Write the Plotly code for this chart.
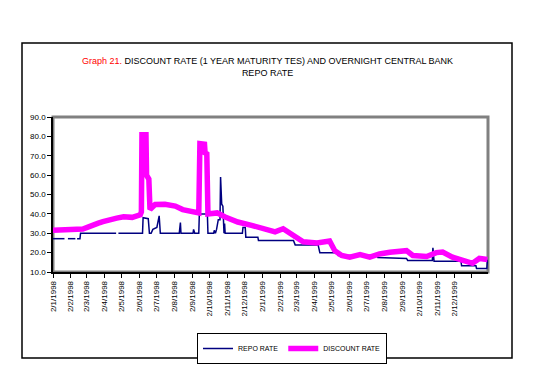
import plotly.graph_objects as go

# ---------------- data ----------------
repo_dates = [
    "1998-01-02", "1998-01-22", "1998-01-25", "1998-01-28", "1998-02-10", "1998-02-11",
    "1998-02-13", "1998-02-18", "1998-02-19", "1998-04-22", "1998-04-24", "1998-04-26",
    "1998-06-07", "1998-06-08", "1998-06-17", "1998-06-19", "1998-06-22", "1998-06-25",
    "1998-07-02", "1998-07-06", "1998-07-08", "1998-08-10", "1998-08-12", "1998-08-13",
    "1998-09-03", "1998-09-04", "1998-09-06", "1998-09-13", "1998-09-14", "1998-09-28",
    "1998-09-29", "1998-10-09", "1998-10-10", "1998-10-12", "1998-10-14", "1998-10-17",
    "1998-10-20", "1998-10-21", "1998-10-23", "1998-10-25", "1998-10-27", "1998-10-28",
    "1998-10-29", "1998-11-28", "1998-11-29", "1998-12-03", "1998-12-04", "1998-12-25",
    "1998-12-26", "1999-02-25", "1999-02-28", "1999-04-09", "1999-04-12", "1999-05-12",
    "1999-05-14", "1999-07-20", "1999-07-22", "1999-09-10", "1999-09-12", "1999-10-25",
    "1999-10-26", "1999-10-28", "1999-12-14", "1999-12-15", "2000-01-09", "2000-01-10",
    "2000-01-28", "2000-01-29",
]
repo_values = [
    27.2, 27.2, None, 27.2, 27.2, None,
    27.2, 27.2, 30.0, 30.0, None, 30.0,
    30.0, 38.0, 37.5, 30.0, 30.0, 32.0,
    33.0, 39.0, 30.0, 30.0, 35.5, 30.0,
    30.0, 32.0, 30.0, 30.0, 40.0, 40.0,
    30.0, 30.0, 31.5, 30.0, 32.0, 37.0,
    37.0, 59.0, 45.0, 44.0, 30.0, 35.0,
    30.0, 30.0, 33.0, 33.0, 28.0, 28.0,
    26.3, 26.3, 24.0, 24.0, 20.0, 20.0,
    18.5, 18.5, 17.5, 17.0, 16.0, 16.0,
    22.5, 15.5, 15.5, 13.2, 13.2, 11.8,
    11.8, 16.3,
]

discount_dates = [
    "1998-01-02", "1998-01-15", "1998-02-01", "1998-02-12", "1998-02-23", "1998-03-05",
    "1998-03-13", "1998-03-22", "1998-03-30", "1998-04-10", "1998-04-23", "1998-05-05",
    "1998-05-20", "1998-06-03", "1998-06-05", "1998-06-06", "1998-06-13", "1998-06-14",
    "1998-06-18", "1998-06-20", "1998-06-29", "1998-07-16", "1998-08-03", "1998-08-16",
    "1998-09-01", "1998-09-13", "1998-09-15", "1998-09-23", "1998-09-24", "1998-09-27",
    "1998-09-29", "1998-10-15", "1998-10-29", "1998-11-20", "1998-12-14", "1999-01-06",
    "1999-01-24", "1999-02-07", "1999-02-25", "1999-03-14", "1999-04-07", "1999-04-26",
    "1999-04-29", "1999-05-08", "1999-05-20", "1999-06-03", "1999-06-21", "1999-07-08",
    "1999-07-25", "1999-08-12", "1999-09-10", "1999-09-21", "1999-10-15", "1999-11-01",
    "1999-11-12", "1999-11-29", "1999-12-16", "2000-01-03", "2000-01-15", "2000-01-29",
]
discount_values = [
    31.6, 31.8, 31.5, 31.9, 32.2, 33.3,
    34.5, 35.2, 36.0, 36.5, 37.8, 38.5,
    38.2, 39.5, 41.0, 80.8, 80.8, 60.0,
    58.0, 42.3, 44.8, 45.0, 44.0, 42.2,
    41.0, 40.5, 76.3, 76.0, 71.5, 71.0,
    40.0, 40.5, 38.4, 35.8, 34.1, 32.4,
    30.7, 32.3, 29.0, 25.6, 25.0, 26.0,
    26.0, 21.0, 18.5, 17.7, 19.0, 17.7,
    19.3, 20.2, 21.0, 18.5, 18.0, 20.0,
    20.3, 17.7, 16.0, 14.5, 17.0, 16.5,
]

tick_dates = [
    "1998-01-02", "1998-02-02", "1998-03-02", "1998-04-02", "1998-05-02", "1998-06-02",
    "1998-07-02", "1998-08-02", "1998-09-02", "1998-10-02", "1998-11-02", "1998-12-02",
    "1999-01-02", "1999-02-02", "1999-03-02", "1999-04-02", "1999-05-02", "1999-06-02",
    "1999-07-02", "1999-08-02", "1999-09-02", "1999-10-02", "1999-11-02", "1999-12-02",
    "2000-01-02",
]
tick_labels = [
    "2/1/1998", "2/2/1998", "2/3/1998", "2/4/1998", "2/5/1998", "2/6/1998",
    "2/7/1998", "2/8/1998", "2/9/1998", "2/10/1998", "2/11/1998", "2/12/1998",
    "2/1/1999", "2/2/1999", "2/3/1999", "2/4/1999", "2/5/1999", "2/6/1999",
    "2/7/1999", "2/8/1999", "2/9/1999", "2/10/1999", "2/11/1999", "2/12/1999",
    "",
]

# ---------------- layout helpers ----------------
OFF = 8                      # default page body margin
W, H = 550 - OFF, 383 - OFF
# plot area in window pixels
PL, PR, PT, PB = 53, 488, 117, 272
L, R, T, B = PL - OFF, PR - OFF, PT - OFF, PB - OFF


def px_x(p):
    return (p - PL) / (PR - PL)


def px_y(p):
    return (PB - p) / (PB - PT)


FONT = "Liberation Sans, Arial, sans-serif"

fig = go.Figure()
fig.add_trace(go.Scatter(
    x=repo_dates, y=repo_values, name="REPO RATE", mode="lines",
    line=dict(color="#000080", width=1.5), connectgaps=False,
))
fig.add_trace(go.Scatter(
    x=discount_dates, y=discount_values, name="DISCOUNT RATE", mode="lines",
    line=dict(color="#FF00FF", width=5.5),
))

fig.update_layout(
    width=W, height=H,
    margin=dict(l=L, r=W - R, t=T, b=H - B, pad=0),
    paper_bgcolor="white", plot_bgcolor="white",
    font=dict(family=FONT, size=8, color="black"),
    showlegend=True,
    legend=dict(
        orientation="h", x=px_x(197), y=px_y(333), xanchor="left", yanchor="top",
        bordercolor="black", borderwidth=1, bgcolor="white",
        font=dict(family=FONT, size=7, color="black"),
        itemwidth=30, tracegroupgap=0,
    ),
    xaxis=dict(
        type="date", range=["1998-01-02", "2000-01-30"],
        tickmode="array", tickvals=tick_dates, ticktext=tick_labels,
        tickangle=-90, ticks="outside", ticklen=4, tickcolor="black",
        showgrid=False, zeroline=False,
        showline=True, linecolor="black", linewidth=1.5,
        tickfont=dict(family=FONT, size=8, color="black"),
    ),
    yaxis=dict(
        range=[10, 90], dtick=10, tick0=10, tickformat=".1f",
        ticks="outside", ticklen=4, tickcolor="black",
        showgrid=False, zeroline=False,
        showline=True, linecolor="black", linewidth=1.5,
        tickfont=dict(family=FONT, size=8, color="black"),
    ),
)

# gray frame of the plot area (top & right visible)
fig.add_shape(type="rect", xref="paper", yref="paper", x0=0, x1=1, y0=0, y1=1,
              line=dict(color="#808080", width=3), layer="below")
# outer border of the chart
fig.add_shape(type="rect", xref="paper", yref="paper",
              x0=px_x(22), x1=px_x(512), y0=px_y(358), y1=px_y(43),
              line=dict(color="black", width=1.5), fillcolor="rgba(0,0,0,0)")

fig.add_annotation(
    xref="paper", yref="paper", x=px_x(267), y=px_y(67), xanchor="center", yanchor="middle",
    showarrow=False, align="center",
    text="<span style='color:#FF0000'>Graph 21.</span> DISCOUNT RATE (1 YEAR MATURITY TES) AND OVERNIGHT CENTRAL BANK<br>REPO RATE",
    font=dict(family=FONT, size=9, color="black"),
)

fig.write_html("out.html")
